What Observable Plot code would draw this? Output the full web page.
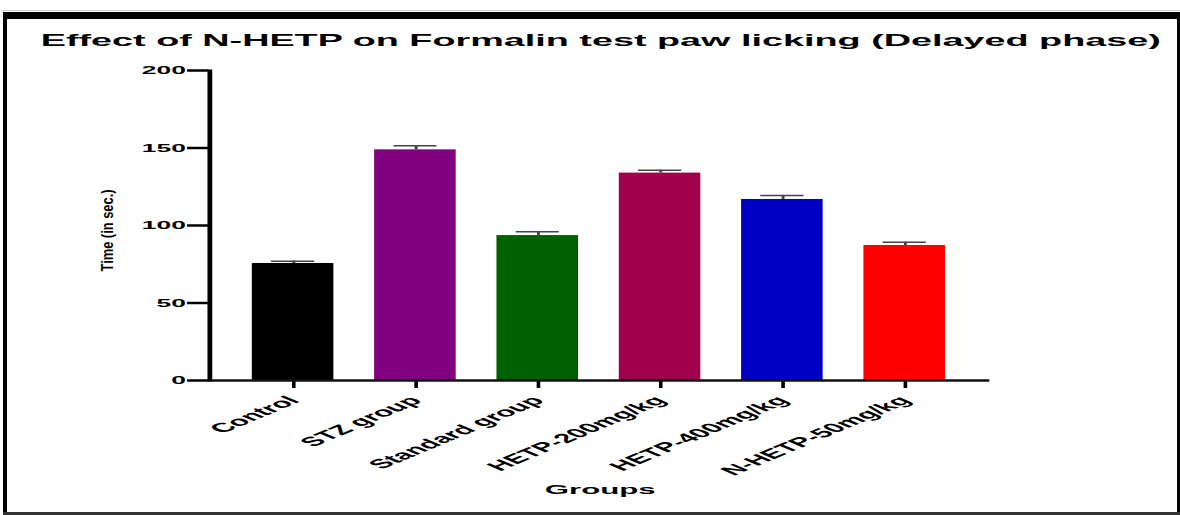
<!DOCTYPE html>
<html>
<head>
<meta charset="utf-8">
<script src="https://cdn.jsdelivr.net/npm/d3@7"></script>
<script src="https://cdn.jsdelivr.net/npm/@observablehq/plot@0.6"></script>
<style>
  html, body { margin: 0; padding: 0; background: #fff; }
  #page { position: relative; width: 1180px; height: 515px; overflow: hidden; background: #fff; }
  .edge { position: absolute; background: #000; }
  #sheet {
    position: absolute; left: 0; top: 0; width: 492px; height: 515px;
    transform-origin: 0 0;
    font-family: "Liberation Sans", Arial, sans-serif;
  }
  #title {
    position: absolute; left: 0; top: 33px; width: 501px;
    text-align: center; font-size: 15.75px; line-height: 16px; font-weight: bold; color: #000;
    white-space: nowrap;
  }
  #chart { position: absolute; left: 0; top: 52px; }
  #chart svg text { font-weight: bold; fill: #000; }
</style>
</head>
<body>
<div id="page">
  <div class="edge" style="left:3px;top:10px;width:1177px;height:1px;background:#ccc"></div>
  <div class="edge" style="left:3px;top:12px;width:1177px;height:7px"></div>
  <div class="edge" style="left:3px;top:12px;width:4px;height:503px"></div>
  <div class="edge" style="left:1177px;top:12px;width:3px;height:503px"></div>
  <div class="edge" style="left:3px;top:512px;width:1177px;height:3px;background:#333"></div>
  <div id="sheet">
    <div id="title">Effect of N-HETP on Formalin test paw licking (Delayed phase)</div>
    <div id="chart"></div>
  </div>
</div>
<script>
// Formalin test, delayed phase: mean licking time with SEM per treatment group
const groups = ["Control", "STZ group", "Standard group", "HETP-200mg/kg", "HETP-400mg/kg", "N-HETP-50mg/kg"];
const means  = [75.5, 148.8, 93.5, 133.8, 116.8, 87.1];
const sems   = [1.5, 2.7, 2.5, 1.8, 2.6, 2.1];
const colors = ["#000000", "#800080", "#006000", "#a0004a", "#0000c4", "#ff0000"];
const yTicks = [0, 50, 100, 150, 200];
const yTitle = "Time (in sec.)";
const xTitle = "Groups";

const table = groups.map((g, i) => ({group: g, mean: means[i], sem: sems[i]}));

// The figure is laid out on a narrow sheet and widened to the page width.
const sheetWidth = 492;
document.getElementById("sheet").style.transform = `scaleX(${1180 / sheetWidth})`;

const chart = Plot.plot({
  width: sheetWidth,
  height: 460,
  marginTop: 18,
  marginRight: 79.5,
  marginBottom: 132,
  marginLeft: 87,
  style: {fontFamily: "'Liberation Sans', Arial, sans-serif", color: "#000", background: "transparent", overflow: "visible"},
  x: {domain: groups, paddingInner: 0.341, paddingOuter: 0.353, align: 0.5, label: null},
  y: {domain: [0, 200], label: null},
  color: {domain: groups, range: colors},
  marks: [
    Plot.barY(table, {x: "group", y: "mean", fill: "group"}),
    Plot.ruleX(table, {x: "group", y1: "mean", y2: d => d.mean + d.sem, stroke: "#444", strokeWidth: 1.2}),
    Plot.tickY(table, {x: "group", y: d => d.mean + d.sem, stroke: "#444", strokeWidth: 1.5, insetLeft: 8, insetRight: 8}),
    Plot.axisY({ticks: yTicks, tickSize: 9, tickPadding: 1, fontSize: 11, strokeWidth: 2.5, label: null}),
    Plot.axisX({tickSize: 8, tickPadding: 10, tickRotate: -45, fontSize: 13, strokeWidth: 1.5, label: null}),
    Plot.ruleY([0], {strokeWidth: 2.5, stroke: "#111"}),
    Plot.frame({anchor: "left", strokeWidth: 2, stroke: "#000"}),
    Plot.text([yTitle], {frameAnchor: "left", rotate: -90, textAnchor: "start", dx: -42.8, dy: 46, fontSize: 7}),
    Plot.text([xTitle], {frameAnchor: "bottom", dy: 113.5, fontSize: 13})
  ]
});

document.getElementById("chart").appendChild(chart);

// Condense the vertical axis title to its printed length
d3.select(chart).selectAll("text")
  .filter(function () { return this.textContent === yTitle; })
  .attr("textLength", 82)
  .attr("lengthAdjust", "spacingAndGlyphs");
</script>
</body>
</html>
